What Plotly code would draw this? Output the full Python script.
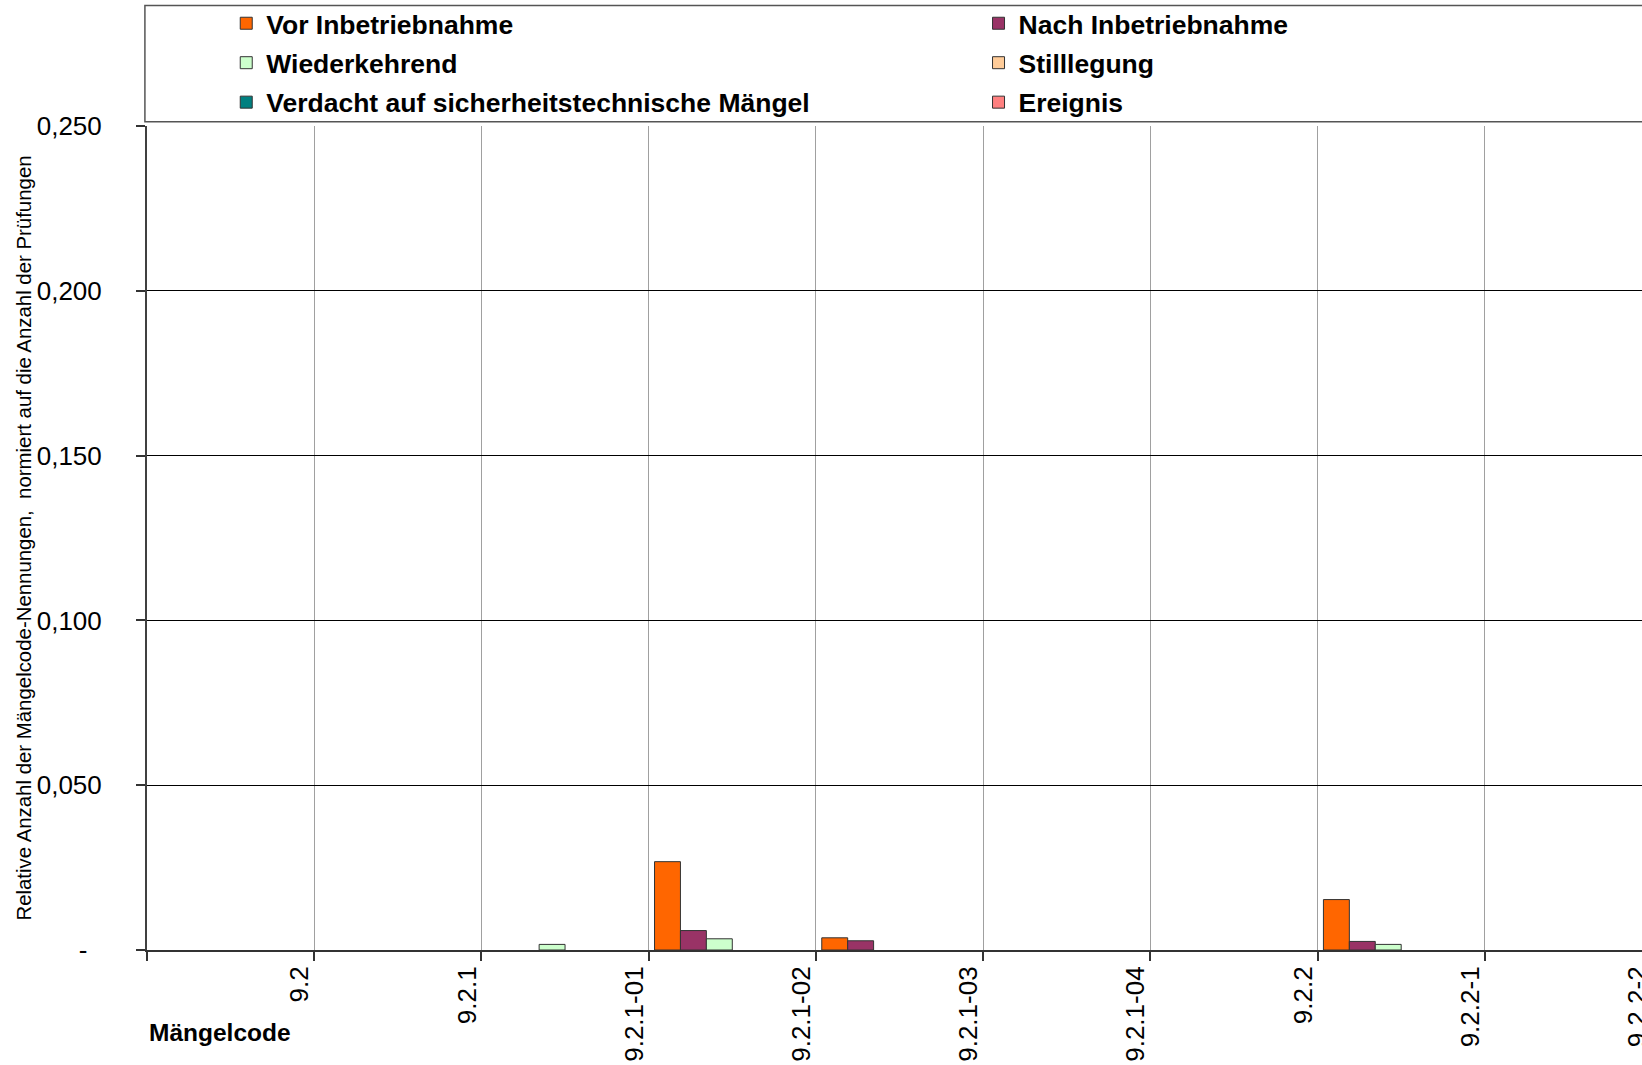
import plotly.graph_objects as go

# ---------------- data ----------------
categories = ["9.2", "9.2.1", "9.2.1-01", "9.2.1-02", "9.2.1-03",
              "9.2.1-04", "9.2.2", "9.2.2-1", "9.2.2-2"]

vor_inbetriebnahme = [0, 0, 0, 0.0268, 0.0037, 0, 0, 0.0153, 0]
nach_inbetriebnahme = [0, 0, 0, 0.0059, 0.0028, 0, 0, 0.0026, 0]
wiederkehrend = [0, 0, 0.0017, 0.0034, 0, 0, 0, 0.0017, 0]
stilllegung = [0, 0, 0, 0, 0, 0, 0, 0, 0]
verdacht = [0, 0, 0, 0, 0, 0, 0, 0, 0]
ereignis = [0, 0, 0, 0, 0, 0, 0, 0, 0]

series_names = ["Vor Inbetriebnahme", "Nach Inbetriebnahme", "Wiederkehrend",
                "Stilllegung", "Verdacht auf sicherheitstechnische Mängel", "Ereignis"]
series_values = [vor_inbetriebnahme, nach_inbetriebnahme, wiederkehrend,
                 stilllegung, verdacht, ereignis]
series_colors = ["#FF6600", "#993366", "#CCFFCC", "#FFCC99", "#008080", "#FF8080"]
series_legend = ["legend", "legend2", "legend", "legend2", "legend", "legend2"]

y_tickvals = [0, 0.05, 0.10, 0.15, 0.20, 0.25]
y_ticktext = ["-  ", "0,050", "0,100", "0,150", "0,200", "0,250"]

y_title = "Relative Anzahl der Mängelcode-Nennungen,  normiert auf die Anzahl der Prüfungen"
x_title = "Mängelcode"

# ---------------- figure ----------------
W, H = 1642, 1065
ML, MR, MT, MB = 147, 0, 126, 115

x_pos = list(range(len(categories)))
boundaries = [i - 0.5 for i in range(len(categories) + 1)]
label_pos = [i + 0.5 - 0.086 for i in x_pos]

FONT = "Liberation Sans, Arial, sans-serif"

fig = go.Figure()
for name, vals, col, lg in zip(series_names, series_values, series_colors, series_legend):
    fig.add_trace(go.Bar(
        x=x_pos,
        # empty (zero) cells are not drawn, as in the original chart
        y=[v if v else None for v in vals],
        name=name,
        marker=dict(color=col, line=dict(color="#333333", width=1)),
        legend=lg, legendgroup=name,
    ))

legend_common = dict(
    xanchor="left", yanchor="top", orientation="v",
    bgcolor="rgba(0,0,0,0)", borderwidth=0, tracegroupgap=2,
    font=dict(family=FONT, size=26.5, weight="bold", color="black"),
)

fig.update_layout(
    width=W, height=H,
    margin=dict(l=ML, r=MR, t=MT, b=MB, autoexpand=False),
    paper_bgcolor="white", plot_bgcolor="white",
    barmode="group", bargap=0.07, bargroupgap=0,
    font=dict(family=FONT, color="black"),
    legend=dict(x=0.053, y=1.1535, **legend_common),
    legend2=dict(x=0.5562, y=1.1535, **legend_common),
    xaxis=dict(
        range=[-0.5, 8.44],
        tickmode="array", tickvals=label_pos, ticktext=categories,
        tickangle=-90, ticks="", showgrid=False, zeroline=False,
        tickfont=dict(family=FONT, size=26, color="black"),
        ticklabelstandoff=4, ticklabeloverflow="allow",
        showline=True, linecolor="#333333", linewidth=2,
        minor=dict(tickmode="array", tickvals=boundaries, ticks="outside",
                   ticklen=9, tickcolor="#333333", tickwidth=1.5,
                   showgrid=True, gridcolor="#A0A0A0", gridwidth=1),
        automargin=False,
    ),
    yaxis=dict(
        range=[0, 0.25],
        tickmode="array", tickvals=y_tickvals, ticktext=y_ticktext,
        ticks="outside", ticklen=9, tickcolor="#333333", tickwidth=1.5,
        tickfont=dict(family=FONT, size=26, color="black"),
        ticklabelstandoff=29,
        showgrid=True, gridcolor="black", gridwidth=1,
        zeroline=False,
        showline=True, linecolor="#404040", linewidth=2,
        title=dict(text=y_title, standoff=0,
                   font=dict(family=FONT, size=20.4, color="black")),
        automargin=False,
    ),
    shapes=[dict(
        type="rect", xref="paper", yref="paper",
        x0=-0.0014, x1=1.02, y0=1.0051, y1=1.1462,
        line=dict(color="#555555", width=1.5), fillcolor="rgba(0,0,0,0)",
        layer="above",
    )],
    annotations=[dict(
        text=x_title, xref="paper", yref="paper",
        x=0.0, y=-0.1007, xanchor="left", yanchor="middle",
        showarrow=False,
        font=dict(family=FONT, size=24.5, weight="bold", color="black"),
    )],
)

fig.write_html(
    "out.html",
    config={"displayModeBar": False},
    post_script="document.body.style.margin='0px';document.body.style.overflow='hidden';",
)
